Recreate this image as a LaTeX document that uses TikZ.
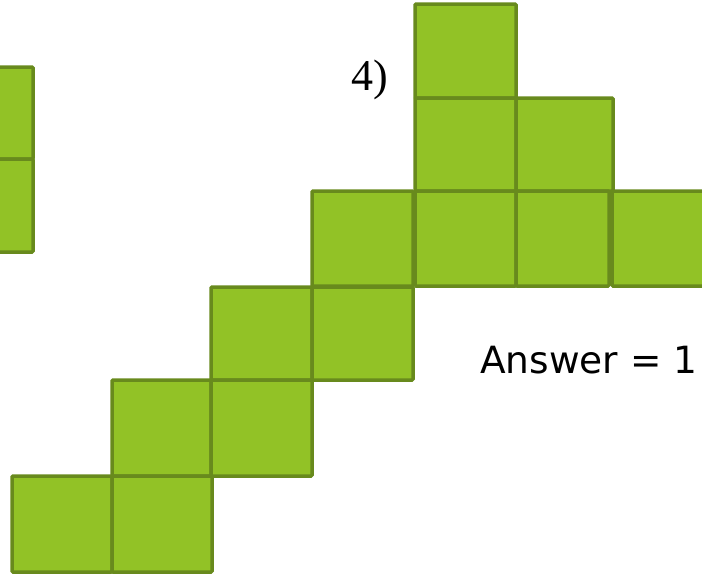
\documentclass[tikz,border=0pt]{standalone}
\usepackage{fontspec}
\newfontfamily\serifrm{Liberation Serif}
\newfontfamily\sansdv{DejaVu Sans}
\definecolor{sqfill}{RGB}{146,194,38}
\definecolor{sqline}{RGB}{104,138,29}
\tikzset{sq/.style={fill=sqfill,draw=sqline,line width=3.5pt,rounded corners=1pt}}
\begin{document}
\begin{tikzpicture}[x=1pt,y=-1pt]
\useasboundingbox (0,0) rectangle (702,574);
\clip (0,0) rectangle (702,574);
% left partial column
\draw[sq] (-5,67) rectangle (33,159);
\draw[sq] (-5,159) rectangle (33,252);
% right figure
\draw[sq] (415,4) rectangle (516,98);
\draw[sq] (415,98) rectangle (516,191);
\draw[sq] (516,98) rectangle (613,191);
\draw[sq] (312,191) rectangle (413,286);
\draw[sq] (415,191) rectangle (516,286);
\draw[sq] (516,191) rectangle (609,286);
\draw[sq] (612,191) rectangle (712,286);
\draw[sq] (211,287) rectangle (312,380);
\draw[sq] (312,287) rectangle (413,380);
\draw[sq] (112,380) rectangle (211,476);
\draw[sq] (211,380) rectangle (312,476);
\draw[sq] (12,476) rectangle (112,572);
\draw[sq] (112,476) rectangle (212,572);
% labels
\node[anchor=base west,inner sep=0pt,font=\serifrm\fontsize{44}{48}\selectfont] (lbl) at (351,90) {4)};
\node[anchor=base west,inner sep=0pt,font=\sansdv\fontsize{37.5}{44}\selectfont] (ans) at (480,373) {Answer = 1};
\end{tikzpicture}
\end{document}
